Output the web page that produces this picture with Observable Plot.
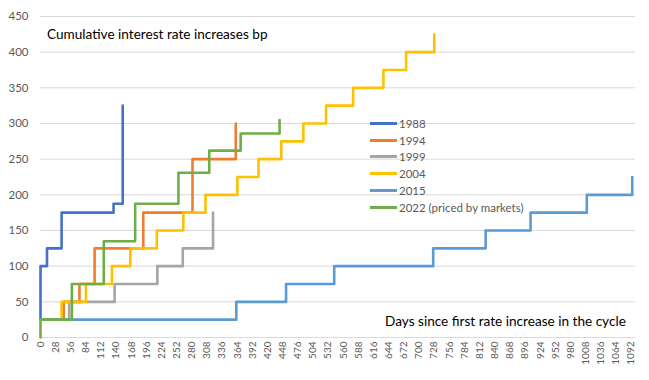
<!DOCTYPE html>
<html>
<head>
<meta charset="utf-8">
<script src="https://cdn.jsdelivr.net/npm/d3@7"></script>
<script src="https://cdn.jsdelivr.net/npm/@observablehq/plot@0.6"></script>
<style>
  html, body { margin: 0; padding: 0; background: #fff; }
  #wrap { position: relative; width: 649px; height: 380px; font-family: Lato, "Open Sans", sans-serif; }
  .ttl { position: absolute; color: #000; font-size: 13.6px; white-space: nowrap; }
  #legend { position: absolute; left: 370px; top: 115px; font-size: 11.5px; color: #595959; }
  .row { height: 16.8px; display: flex; align-items: center; white-space: nowrap; }
  .sw { width: 27px; height: 3px; margin-right: 2px; }
</style>
</head>
<body>
<div id="wrap"></div>
<script>
const seriesNames = ["1988", "1994", "1999", "2004", "2015", "2022 (priced by markets)"];
const seriesColors = ["#4472C4", "#ED7D31", "#A5A5A5", "#FFC000", "#5B9BD5", "#70AD47"];

const days1988 = [0, 0, 12, 39, 135, 152];
const vals1988 = [25, 100, 125, 175, 187.5, 325];
const days1994 = [0, 43, 72, 100, 190, 281, 361];
const vals1994 = [25, 50, 75, 125, 175, 250, 300];
const days1999 = [0, 53, 137, 216, 263, 319];
const vals1999 = [25, 50, 75, 100, 125, 175];
const days2004 = [0, 39, 84, 132, 166, 215, 264, 305, 364, 403, 445, 486, 528, 578, 634, 676, 728];
const vals2004 = [25, 50, 75, 100, 125, 150, 175, 200, 225, 250, 275, 300, 325, 350, 375, 400, 425];
const days2015 = [0, 362, 454, 543, 726, 823, 906, 1010, 1094];
const vals2015 = [25, 50, 75, 100, 125, 150, 175, 200, 225];
const days2022 = [0, 0, 58, 117, 175, 255, 312, 370, 442];
const vals2022 = [0, 25, 75, 135, 187.5, 231, 262, 286, 305];

const xTicks = [0, 28, 56, 84, 112, 140, 168, 196, 224, 252, 280, 308, 336, 364, 392, 420, 448, 476, 504, 532, 560, 588, 616, 644, 672, 700, 728, 756, 784, 812, 840, 868, 896, 924, 952, 980, 1008, 1036, 1064, 1092];
const yTicks = [0, 50, 100, 150, 200, 250, 300, 350, 400, 450];

const yTitle = "Cumulative interest rate increases bp";
const xTitle = "Days since first rate increase in the cycle";

const allDays = [days1988, days1994, days1999, days2004, days2015, days2022];
const allVals = [vals1988, vals1994, vals1999, vals2004, vals2015, vals2022];
const series = seriesNames.map((name, i) => allDays[i].map((d, j) => ({series: name, day: d, bp: allVals[i][j]})));

const chart = Plot.plot({
  width: 649,
  height: 380,
  marginLeft: 40,
  marginRight: 14,
  marginTop: 16,
  marginBottom: 43,
  style: {fontFamily: "Lato, 'Open Sans', sans-serif", background: "#fff"},
  x: {domain: [0, 1100]},
  y: {domain: [0, 450]},
  color: {domain: seriesNames, range: seriesColors},
  marks: [
    Plot.gridY(yTicks, {stroke: "#d9d9d9", strokeOpacity: 1, strokeWidth: 1}),
    ...series.map(s => Plot.line(s, {x: "day", y: "bp", stroke: "series", curve: "step-after", strokeWidth: 2.6})),
    Plot.axisY(yTicks, {tickSize: 0, tickPadding: 12, fontSize: 11.5, fill: "#595959", label: null, tickFormat: d => String(d)}),
    Plot.axisX(xTicks, {tickSize: 0, tickPadding: 4, tickRotate: -90, fontSize: 10, fill: "#595959", label: null, tickFormat: d => String(d)})
  ]
});

const wrap = document.getElementById("wrap");
wrap.appendChild(chart);

const t1 = document.createElement("div");
t1.className = "ttl"; t1.style.left = "47px"; t1.style.top = "26px"; t1.textContent = yTitle;
wrap.appendChild(t1);
const t2 = document.createElement("div");
t2.className = "ttl"; t2.style.left = "385px"; t2.style.top = "313px"; t2.textContent = xTitle;
wrap.appendChild(t2);

const legend = document.createElement("div");
legend.id = "legend";
seriesNames.forEach((n, i) => {
  const r = document.createElement("div"); r.className = "row";
  const sw = document.createElement("div"); sw.className = "sw"; sw.style.background = seriesColors[i];
  const lb = document.createElement("span"); lb.textContent = n;
  r.appendChild(sw); r.appendChild(lb); legend.appendChild(r);
});
wrap.appendChild(legend);
</script>
</body>
</html>
